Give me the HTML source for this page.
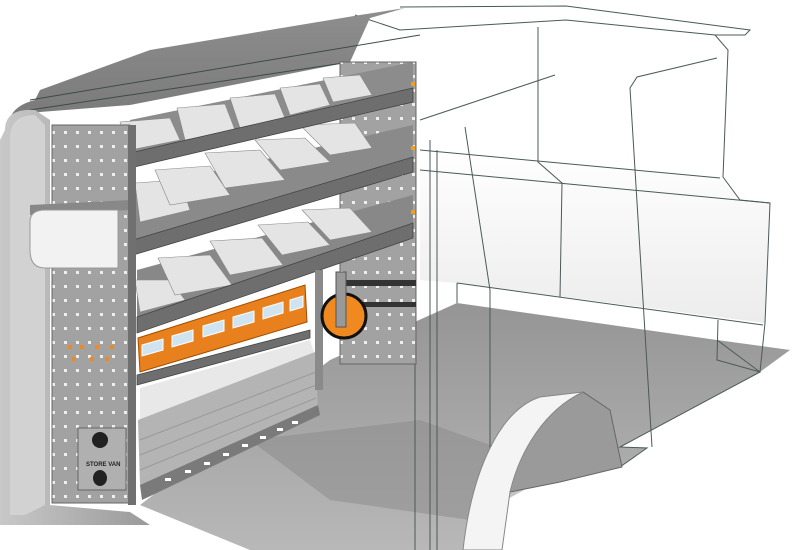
<!DOCTYPE html>
<html><head><style>body{margin:0;background:#fff}svg{display:block}</style></head><body>
<svg width="800" height="550" viewBox="0 0 800 550" xmlns="http://www.w3.org/2000/svg">
<defs>
<linearGradient id="wall" x1="0" x2="1"><stop offset="0" stop-color="#c8c8c8"/><stop offset="1" stop-color="#9a9a9a"/></linearGradient>
<linearGradient id="roof" x1="0" y1="0" x2="0" y2="1"><stop offset="0" stop-color="#8e8e8e"/><stop offset="1" stop-color="#7a7a7a"/></linearGradient>
<linearGradient id="floor" x1="0" y1="0" x2="0" y2="1"><stop offset="0" stop-color="#959595"/><stop offset="1" stop-color="#b8b8b8"/></linearGradient>
<linearGradient id="side" x1="0" y1="0" x2="0" y2="1"><stop offset="0" stop-color="#fff"/><stop offset="1" stop-color="#ececec"/></linearGradient>
<pattern id="holes" width="12" height="14" patternUnits="userSpaceOnUse"><rect width="12" height="14" fill="#a2a2a2"/><rect x="4" y="5" width="3" height="3" fill="#eee"/></pattern>
</defs>
<!-- floor -->
<path d="M140 505 L330 360 L457 303 L717 340 L790 350 L760 372 L620 447 L647 448 L620 467 L510 490 L470 550 L180 550 Z" fill="url(#floor)"/>
<path d="M250 440 L420 420 L560 470 L470 520 L330 500 Z" fill="#8a8a8a" opacity="0.5"/>
<path d="M0 500 L140 505 L250 550 L0 550Z" fill="#fff"/>
<!-- van side -->
<path d="M420 150 L720 178 L740 200 L770 203 L765 323 L457 283 L420 280 Z" fill="url(#side)"/>
<g fill="none" stroke="#4a5a58" stroke-width="1">
<path d="M400 7 L566 6 L750 30 L745 35 L715 35"/>
<path d="M355 15 L400 30 L566 20 L715 35 L728 50 L723 177 L740 200 L770 203 L765 323"/>
<path d="M420 150 L720 178"/><path d="M420 170 L770 203"/>
<path d="M457 283 L763 325"/><path d="M457 283 L457 303"/>
<path d="M538 27 L538 162 L562 183 L560 297"/>
<path d="M717 58 L637 77 L630 88 L652 447"/>
<path d="M465 127 L490 290 L490 550"/>
<path d="M415 100 L415 550"/><path d="M430 140 L430 550"/><path d="M437 150 L437 550"/>
<path d="M420 120 L555 75"/>
<path d="M717 340 L760 372 L620 447 L647 448 L620 467"/>
<path d="M718 320 L717 360 L760 372 L765 323"/>
</g>
<!-- roof -->
<path d="M10 118 Q15 105 35 100 L40 90 L150 50 L360 15 L405 8 L370 18 L350 62 L130 105 L40 112 Z" fill="url(#roof)"/>
<path d="M30 110 L350 62 M30 100 L420 35" stroke="#3d4a48" stroke-width="1" fill="none"/>
<!-- left wall -->
<path d="M5 130 Q5 108 35 110 L50 120 L50 505 L130 512 L150 525 L0 525 L0 140 Z" fill="url(#wall)"/>
<path d="M10 135 Q12 115 35 115 L45 125 L45 505 L25 515 L10 515 Z" fill="#d2d2d2"/>
<!-- right panel -->
<rect x="340" y="62" width="76" height="302" fill="url(#holes)" stroke="#666"/>
<rect x="336" y="280" width="80" height="6" fill="#333"/>
<rect x="336" y="302" width="80" height="5" fill="#333"/>
<!-- shelves back -->
<path d="M130 120 L413 62 L413 95 L130 155Z" fill="#8c8c8c"/>
<path d="M133 190 L413 125 L413 160 L133 240Z" fill="#8a8a8a"/>
<path d="M137 270 L413 195 L413 225 L137 317Z" fill="#888"/>
<!-- dividers -->
<g fill="#e4e4e4" stroke="#888" stroke-width="0.6">
<polygon points="120,122 170,118 180,140 130,150"/><polygon points="177,108 225,104 235,130 185,140"/><polygon points="230,98 275,94 285,118 240,128"/><polygon points="280,88 320,84 330,105 290,115"/><polygon points="323,78 360,75 372,95 333,102"/>
<polygon points="135,183 180,180 190,210 140,222"/><polygon points="155,170 210,166 230,195 170,205"/><polygon points="205,153 260,150 285,180 225,188"/><polygon points="255,140 305,138 330,162 280,170"/><polygon points="300,125 355,123 372,148 330,155"/>
<polygon points="135,280 170,280 185,300 140,312"/><polygon points="158,258 210,255 232,285 175,295"/><polygon points="210,241 262,238 283,265 230,275"/><polygon points="258,225 308,222 330,245 282,255"/><polygon points="302,210 350,208 372,232 330,240"/>
</g>
<!-- beams -->
<g fill="#6e6e6e" stroke="#444" stroke-width="0.8">
<polygon points="130,153 413,88 413,102 130,168"/>
<polygon points="133,240 413,157 413,172 133,255"/>
<polygon points="137,317 413,223 413,238 137,333"/>
<polygon points="137,375 310,330 310,338 137,385"/>
</g>
<g fill="#f0a020"><rect x="411" y="82" width="4" height="4"/><rect x="411" y="146" width="4" height="4"/><rect x="411" y="210" width="4" height="4"/></g>
<!-- orange bins -->
<polygon points="138,338 305,285 307,322 140,372" fill="#e8801e" stroke="#a04e00"/>
<g fill="#cfe4f0" stroke="#fff">
<polygon points="142,345 163,339 163,350 142,356"/><polygon points="172,336 193,330 193,341 172,347"/><polygon points="203,326 224,320 224,331 203,337"/><polygon points="233,317 254,311 254,322 233,328"/><polygon points="263,308 283,302 283,313 263,319"/><polygon points="290,300 303,296 303,307 290,311"/>
</g>
<!-- drawer -->
<polygon points="140,388 310,340 315,355 140,420" fill="#e8e8e8"/>
<polygon points="138,420 315,352 318,410 140,485" fill="#b4b4b4"/>
<g stroke="#9a9a9a" stroke-width="1"><line x1="140" y1="440" x2="316" y2="372"/><line x1="140" y1="455" x2="316" y2="385"/><line x1="140" y1="470" x2="316" y2="398"/></g>
<polygon points="140,485 318,405 320,415 142,500" fill="#7a7a7a"/>
<g fill="#fff"><rect x="165" y="478" width="6" height="3"/><rect x="185" y="470" width="6" height="3"/><rect x="204" y="462" width="6" height="3"/><rect x="223" y="453" width="6" height="3"/><rect x="242" y="444" width="6" height="3"/><rect x="260" y="436" width="6" height="3"/><rect x="277" y="428" width="6" height="3"/><rect x="292" y="421" width="6" height="3"/></g>
<rect x="315" y="270" width="8" height="120" fill="#8a8a8a"/>
<!-- left panel -->
<rect x="52" y="125" width="78" height="378" fill="url(#holes)" stroke="#666"/>
<polygon points="30,205 130,200 130,210 30,215" fill="#888"/>
<path d="M30 222 Q30 210 45 210 L118 210 L118 268 L45 268 Q30 268 30 250Z" fill="#f2f2f2" stroke="#999"/>
<g fill="#f08a20"><rect x="68" y="345" width="4" height="4"/><rect x="80" y="345" width="4" height="4"/><rect x="95" y="345" width="4" height="4"/><rect x="110" y="345" width="4" height="4"/><rect x="72" y="357" width="4" height="4"/><rect x="90" y="357" width="4" height="4"/><rect x="105" y="357" width="4" height="4"/></g>
<rect x="78" y="428" width="48" height="62" fill="#b0b0b0" stroke="#666"/>
<ellipse cx="100" cy="440" rx="8" ry="8" fill="#222"/><ellipse cx="100" cy="478" rx="7" ry="8" fill="#222"/>
<text x="86" y="466" font-family="Liberation Sans,sans-serif" font-size="6" font-weight="bold" fill="#222">STORE VAN</text>
<rect x="128" y="125" width="8" height="380" fill="#707070"/>
<!-- orange wheel -->
<circle cx="344" cy="316" r="22" fill="#f08a20" stroke="#111" stroke-width="3"/>
<rect x="336" y="272" width="10" height="55" fill="#999" stroke="#555"/>
<!-- wheel arch -->
<path d="M510 492 C515 460 535 415 583 392 L610 410 L622 467 L560 482 Z" fill="#9a9a9a" stroke="#666"/>
<path d="M463 550 C472 470 500 410 540 397 L583 392 C545 410 520 450 510 492 L502 550 Z" fill="#f4f4f4" stroke="#888"/>
</svg>
</body></html>
